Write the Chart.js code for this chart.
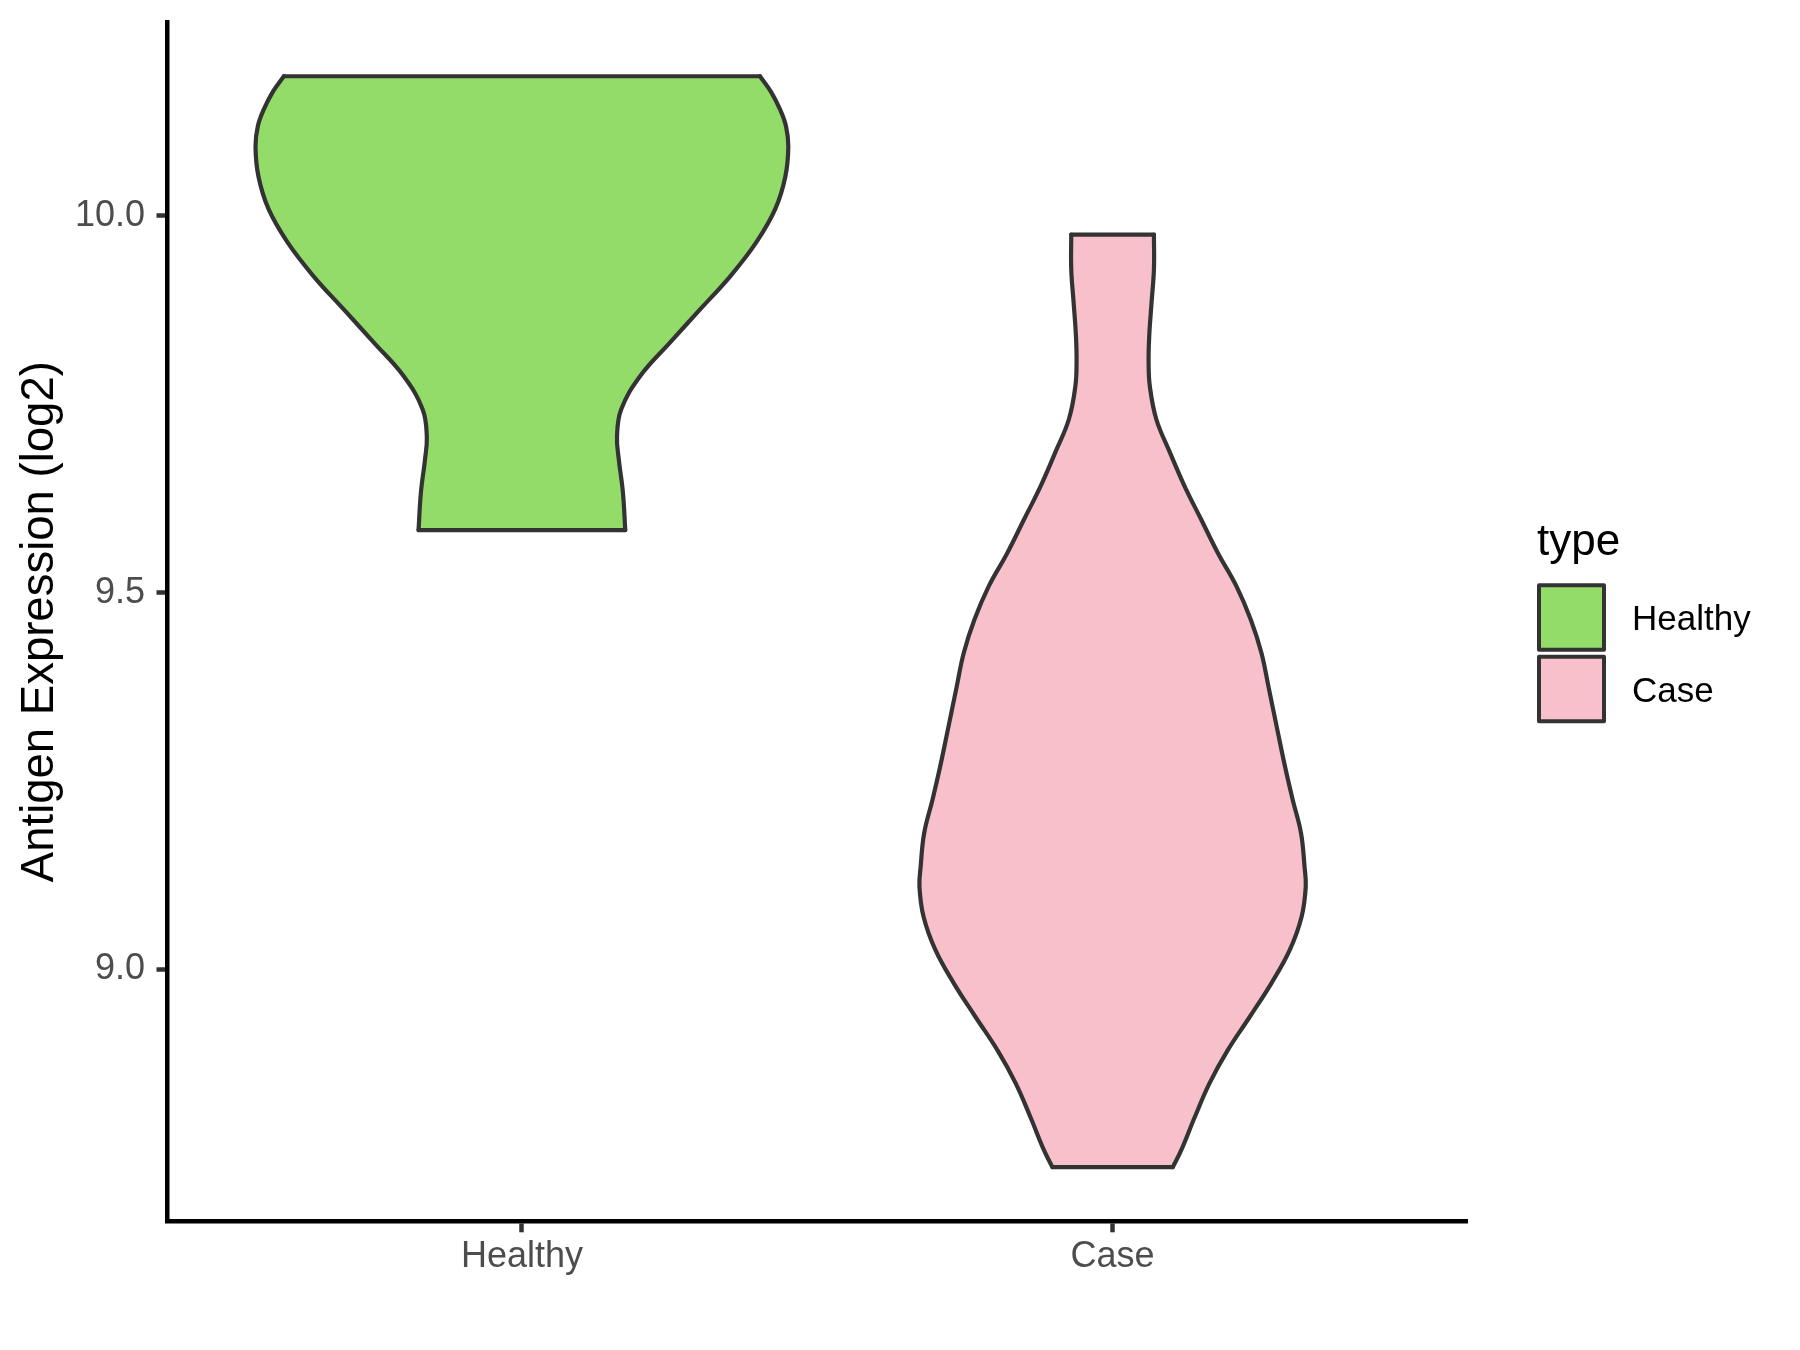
<!DOCTYPE html>
<html>
<head>
<meta charset="utf-8">
<title>Antigen Expression (log2) - violin</title>
<script src="https://cdn.jsdelivr.net/npm/chart.js@4.4.1/dist/chart.umd.min.js"></script>
<style>
    html, body { margin: 0; padding: 0; background: #ffffff; }
    #chart-wrap { width: 1800px; height: 1350px; position: relative; }
</style>
</head>
<body>
<div id="chart-wrap"><canvas id="violin-canvas" width="1800" height="1350"></canvas></div>
<script>
// --- Data ---
const categories = ['Healthy', 'Case'];
const fillColors = ['#93DC69', '#F7C0CB'];
const outlineColor = '#333333';
const yTicks = [9.0, 9.5, 10.0];
const yRange = [8.666, 10.257];
const xRange = [0.4, 2.6];
const yTitle = 'Antigen Expression (log2)';
const legendTitle = 'type';

// violin outlines, bottom to top: expression level and half-width (category units)
const healthyLevels = [9.583, 9.633, 9.677, 9.707, 9.743, 9.787, 9.832, 9.876, 9.920,
    9.965, 10.009, 10.052, 10.092, 10.119, 10.141, 10.164, 10.185];
const healthyHalfWidth = [0.175, 0.171, 0.164, 0.161, 0.168, 0.200, 0.251, 0.302, 0.353,
    0.397, 0.429, 0.446, 0.451, 0.447, 0.437, 0.422, 0.403];

const caseLevels = [8.738, 8.760, 8.804, 8.849, 8.893, 8.937, 8.982, 9.026, 9.070, 9.110,
    9.136, 9.181, 9.225, 9.269, 9.314, 9.375, 9.420, 9.464, 9.508, 9.553,
    9.597, 9.641, 9.686, 9.730, 9.774, 9.805, 9.840, 9.885, 9.929, 9.975];
const caseHalfWidth = [0.102, 0.116, 0.139, 0.164, 0.195, 0.232, 0.269, 0.300, 0.320, 0.327,
    0.325, 0.319, 0.305, 0.292, 0.280, 0.264, 0.252, 0.234, 0.210, 0.178,
    0.150, 0.122, 0.097, 0.074, 0.063, 0.061, 0.062, 0.066, 0.070, 0.070];

const FONT = '"Liberation Sans", Arial, Helvetica, sans-serif';
Chart.defaults.font.family = FONT;

// --- Build datasets: each violin = left side (filled to right side), right side, flat ends ---
function sidePoints(levels, half, center, sign) {
    return levels.map((lv, i) => ({ x: center + sign * half[i], y: lv }));
}

function violinDatasets(idx, levels, half) {
    const center = idx + 1;
    const last = levels.length - 1;
    const common = {
        borderColor: outlineColor,
        borderWidth: 4.2,
        pointRadius: 0,
        pointHoverRadius: 0,
        borderJoinStyle: 'round',
        borderCapStyle: 'round'
    };
    return [
        Object.assign({}, common, {
            label: categories[idx],
            data: sidePoints(levels, half, center, -1),
            indexAxis: 'y',
            tension: 0.4,
            fill: '+1',
            backgroundColor: fillColors[idx],
            order: 2
        }),
        Object.assign({}, common, {
            label: categories[idx] + ' (right)',
            data: sidePoints(levels, half, center, 1),
            indexAxis: 'y',
            tension: 0.4,
            fill: false,
            order: 1
        }),
        Object.assign({}, common, {
            label: categories[idx] + ' (ends)',
            data: [
                { x: center - half[last], y: levels[last] },
                { x: center + half[last], y: levels[last] },
                { x: null, y: null },
                { x: center - half[0], y: levels[0] },
                { x: center + half[0], y: levels[0] }
            ],
            tension: 0,
            fill: false,
            order: 1
        })
    ];
}

const datasets = [].concat(
    violinDatasets(0, healthyLevels, healthyHalfWidth),
    violinDatasets(1, caseLevels, caseHalfWidth)
);

// --- ggplot-style legend on the right ---
const typeLegend = {
    id: 'typeLegend',
    afterDraw(chart) {
        const ctx = chart.ctx;
        const area = chart.chartArea;
        const left = area.right + 70;
        const keyTop = (area.top + area.bottom) / 2 - 38.5;
        ctx.save();
        ctx.fillStyle = '#000000';
        ctx.textBaseline = 'alphabetic';
        ctx.textAlign = 'left';
        ctx.font = '44px ' + FONT;
        ctx.fillText(legendTitle, left, keyTop - 28);
        categories.forEach((name, i) => {
            const top = keyTop + i * 71.7;
            ctx.fillStyle = fillColors[i];
            ctx.fillRect(left + 2, top + 2, 65, 64.5);
            ctx.lineWidth = 4;
            ctx.lineJoin = 'round';
            ctx.strokeStyle = outlineColor;
            ctx.strokeRect(left + 2, top + 2, 65, 64.5);
            ctx.fillStyle = '#000000';
            ctx.font = '35px ' + FONT;
            ctx.fillText(name, left + 95, top + 47);
        });
        ctx.restore();
    }
};

const tickFont = { family: FONT, size: 36 };

new Chart(document.getElementById('violin-canvas'), {
    type: 'line',
    data: { datasets: datasets },
    plugins: [typeLegend],
    options: {
        responsive: false,
        animation: false,
        events: [],
        layout: { padding: { top: 22, right: 333, bottom: 0, left: 0 } },
        plugins: {
            legend: { display: false },
            tooltip: { enabled: false }
        },
        scales: {
            x: {
                type: 'linear',
                min: xRange[0],
                max: xRange[1],
                afterBuildTicks: (scale) => {
                    scale.ticks = categories.map((c, i) => ({ value: i + 1 }));
                },
                afterFit: (scale) => {
                    scale.height = 128.7;
                    scale.paddingLeft = 0;
                    scale.paddingRight = 0;
                },
                ticks: {
                    callback: (v) => categories[Math.round(v) - 1],
                    color: '#4D4D4D',
                    font: tickFont,
                    padding: 3,
                    maxRotation: 0,
                    autoSkip: false
                },
                grid: {
                    drawOnChartArea: false,
                    drawTicks: true,
                    tickLength: 11,
                    tickWidth: 4.5,
                    tickColor: '#333333'
                },
                border: { display: true, color: '#000000', width: 4.5 }
            },
            y: {
                type: 'linear',
                min: yRange[0],
                max: yRange[1],
                afterBuildTicks: (scale) => {
                    scale.ticks = yTicks.map(v => ({ value: v }));
                },
                afterFit: (scale) => {
                    scale.width = 167.5;
                    scale.paddingTop = 0;
                    scale.paddingBottom = 0;
                },
                ticks: {
                    callback: (v) => Number(v).toFixed(1),
                    color: '#4D4D4D',
                    font: tickFont,
                    padding: 11.5
                },
                grid: {
                    drawOnChartArea: false,
                    drawTicks: true,
                    tickLength: 11,
                    tickWidth: 4.5,
                    tickColor: '#333333'
                },
                border: { display: true, color: '#000000', width: 4.5 },
                title: {
                    display: true,
                    text: yTitle,
                    color: '#000000',
                    font: { family: FONT, size: 45.5 },
                    padding: { top: 13, bottom: 0 }
                }
            }
        }
    }
});
</script>
</body>
</html>
